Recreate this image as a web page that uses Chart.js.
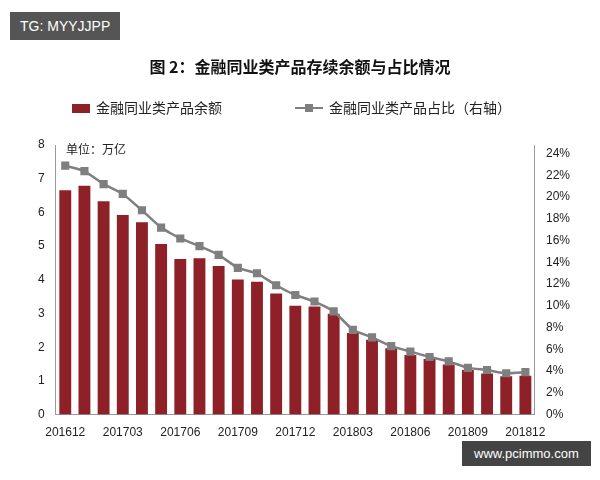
<!DOCTYPE html>
<html><head><meta charset="utf-8">
<script src="https://cdn.jsdelivr.net/npm/chart.js@4"></script>
<style>
body{margin:0;background:#fff;font-family:"Noto Sans CJK SC","Liberation Sans",sans-serif;}
#wrap{position:relative;width:600px;height:480px;}
canvas{position:absolute;left:0;top:0;}
.t{position:absolute;white-space:nowrap;}
</style></head><body>
<div id="wrap">
<canvas id="c" width="600" height="480"></canvas>
<div class="t" style="left:10px;top:12px;background:#555;color:#fff;font:14px 'Liberation Sans';padding:6px 10px;">TG: MYYJJPP</div>
<div class="t" style="left:0;width:600px;top:54px;text-align:center;font-weight:bold;font-size:16px;color:#111;">图 2：金融同业类产品存续余额与占比情况</div>
<div class="t" style="left:72px;top:97px;font-size:14px;color:#222;"><span style="display:inline-block;width:18px;height:9px;background:#8e2127;margin-right:6px;"></span>金融同业类产品余额</div>
<div class="t" style="left:295px;top:97px;font-size:14px;color:#222;"><span style="display:inline-block;position:relative;width:28px;height:10px;margin-right:6px;"><span style="position:absolute;left:0;top:4px;width:28px;height:2px;background:#7f7f7f"></span><span style="position:absolute;left:10px;top:1px;width:8px;height:8px;background:#7f7f7f"></span></span>金融同业类产品占比（右轴）</div>
<div class="t" style="left:66px;top:140px;font-size:12px;color:#222;">单位：万亿</div>
<div class="t" style="left:462px;top:441px;background:#444;color:#fff;font:13px 'Liberation Sans';padding:5px 12px;">www.pcimmo.com</div>
</div>
<script>
const categories=['201612','201701','201702','201703','201704','201705','201706','201707','201708','201709','201710','201711','201712','201801','201802','201803','201804','201805','201806','201807','201808','201809','201810','201811','201812'];
const balance=[6.66,6.79,6.33,5.92,5.71,5.06,4.62,4.64,4.41,4.01,3.94,3.59,3.23,3.21,2.99,2.42,2.22,1.97,1.77,1.65,1.49,1.32,1.22,1.14,1.15];
const share=[22.9,22.4,21.2,20.3,18.8,17.2,16.2,15.5,14.7,13.5,13.0,11.9,11.0,10.4,9.5,7.8,7.1,6.3,5.8,5.3,4.9,4.3,4.1,3.8,3.9];
const leftTicks=[0,1,2,3,4,5,6,7,8];
const rightTicks=[0,2,4,6,8,10,12,14,16,18,20,22,24];
const tickFont={family:"Liberation Sans",size:12};
new Chart(document.getElementById('c'),{
 data:{labels:categories,datasets:[
  {type:'line',data:share,yAxisID:'y1',borderColor:'#7f7f7f',backgroundColor:'#7f7f7f',borderWidth:2.5,pointStyle:'rect',pointRadius:4,tension:0.15,order:0},
  {type:'bar',data:balance,yAxisID:'y',backgroundColor:'#8e2127',barPercentage:0.62,categoryPercentage:1,order:1}
 ]},
 options:{responsive:false,animation:false,
  layout:{padding:{top:145,left:35,right:27,bottom:37}},
  plugins:{legend:{display:false},tooltip:{enabled:false}},
  scales:{
   x:{grid:{display:false,drawTicks:true},border:{color:'#999'},
      ticks:{autoSkip:false,maxRotation:0,color:'#222',font:tickFont,callback:(v,i)=>i%3===0?categories[i]:''}},
   y:{min:0,max:8,grid:{display:false},border:{color:'#999'},
      afterBuildTicks:a=>{a.ticks=leftTicks.map(v=>({value:v}));},
      ticks:{color:'#222',font:tickFont}},
   y1:{position:'right',min:0,max:24.8,grid:{display:false},border:{color:'#999'},
      afterBuildTicks:a=>{a.ticks=rightTicks.map(v=>({value:v}));},
      ticks:{color:'#222',font:tickFont,callback:v=>v+'%'}}
  }}
});
</script></body></html>
